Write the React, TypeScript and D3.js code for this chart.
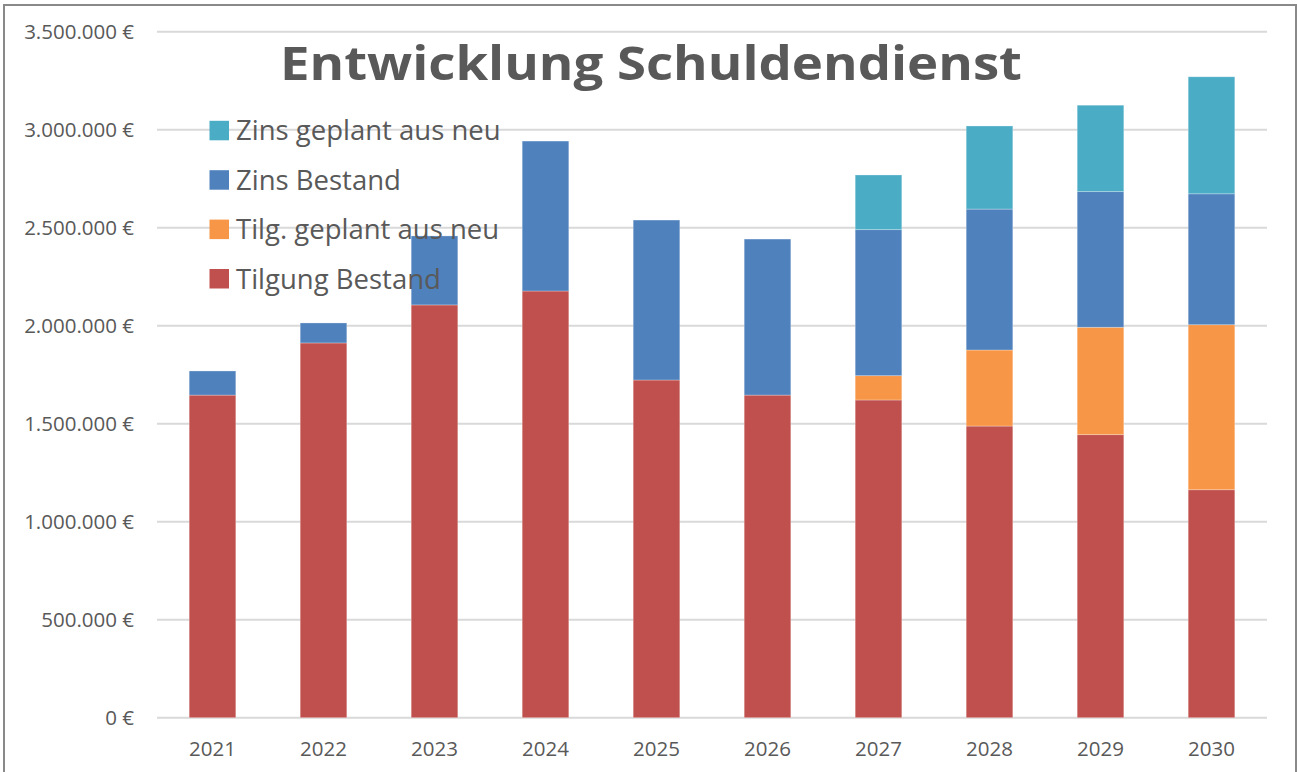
import React from "react";
import * as d3 from "d3";

const years = ["2021", "2022", "2023", "2024", "2025", "2026", "2027", "2028", "2029", "2030"];
const tilgungBestand = [1646000, 1912000, 2106000, 2177000, 1723000, 1646000, 1621000, 1488000, 1444000, 1163000];
const tilgGeplantNeu = [0, 0, 0, 0, 0, 0, 124000, 388000, 548000, 842000];
const zinsBestand = [123000, 102000, 352000, 765000, 816000, 796000, 745000, 719000, 692000, 668000];
const zinsGeplantNeu = [0, 0, 0, 0, 0, 0, 279000, 424000, 441000, 597000];
const yTicks = [0, 500000, 1000000, 1500000, 2000000, 2500000, 3000000, 3500000];

const seriesNames = ["Tilgung Bestand", "Tilg. geplant aus neu", "Zins Bestand", "Zins geplant aus neu"];
const seriesColors = ["#C0504D", "#F79646", "#4F81BD", "#4BACC6"];
const title = "Entwicklung Schuldendienst";

const W = 1298;
const H = 772;
const plot = { left: 157, right: 1267, top: 31.7, bottom: 717.7 };

const fmt = (v: number) => {
  const s = Math.round(v).toString().replace(/\B(?=(\d{3})+(?!\d))/g, ".");
  return s + " €";
};

export default function App() {
  const x = d3.scaleBand<string>().domain(years).range([plot.left, plot.right]).paddingInner(0.58).paddingOuter(0.29);
  const y = d3.scaleLinear().domain([0, 3500000]).range([plot.bottom, plot.top]);

  const rows = years.map((yr, i) => ({
    year: yr,
    s0: tilgungBestand[i],
    s1: tilgGeplantNeu[i],
    s2: zinsBestand[i],
    s3: zinsGeplantNeu[i],
  }));
  const stack = d3.stack<any>().keys(["s0", "s1", "s2", "s3"]);
  const layers = stack(rows);

  const legendOrder = [3, 2, 1, 0];
  const textColor = "#595959";
  const font = "'Open Sans', 'Noto Sans', sans-serif";

  return (
    <div style={{ position: "absolute", left: 0, top: 0 }}>
      <svg width={W} height={H} style={{ display: "block", background: "#fff" }}>
        <rect x={4} y={5} width={1292} height={800} fill="#fff" stroke="#898989" strokeWidth={2} />
        {yTicks.map((t) => (
          <g key={t}>
            <line x1={plot.left} x2={plot.right} y1={y(t)} y2={y(t)} stroke="#D9D9D9" strokeWidth={2} />
            <text
              x={134}
              y={y(t)}
              dy="0.36em"
              textAnchor="end"
              fontFamily={font}
              fontSize={20.5}
              fill={textColor}
            >
              {fmt(t)}
            </text>
          </g>
        ))}
        {layers.map((layer, li) => (
          <g key={li} fill={seriesColors[li]}>
            {layer.map((d, i) => {
              const h = y(d[0]) - y(d[1]);
              if (h <= 0) return null;
              return (
                <rect
                  key={i}
                  x={x(years[i])}
                  y={y(d[1])}
                  width={x.bandwidth()}
                  height={h}
                  stroke="rgba(255,255,255,0.35)"
                  strokeWidth={0.8}
                />
              );
            })}
          </g>
        ))}
        {years.map((yr) => (
          <text
            key={yr}
            x={(x(yr) as number) + x.bandwidth() / 2}
            y={756}
            textAnchor="middle"
            fontFamily={font}
            fontSize={20.5}
            fill={textColor}
          >
            {yr}
          </text>
        ))}
        <text
          x={651}
          y={80}
          textAnchor="middle"
          fontFamily={font}
          fontWeight="bold"
          fontSize={46}
          fill={textColor}
          textLength={742}
          lengthAdjust="spacingAndGlyphs"
        >
          {title}
        </text>
        {legendOrder.map((si, k) => {
          const cy = 130.5 + k * 49.4;
          return (
            <g key={si}>
              <rect x={209.5} y={cy - 9.7} width={19.5} height={19.5} fill={seriesColors[si]} />
              <text x={236} y={cy} dy="0.36em" fontFamily={font} fontSize={27.5} fill={textColor}>
                {seriesNames[si]}
              </text>
            </g>
          );
        })}
      </svg>
    </div>
  );
}
